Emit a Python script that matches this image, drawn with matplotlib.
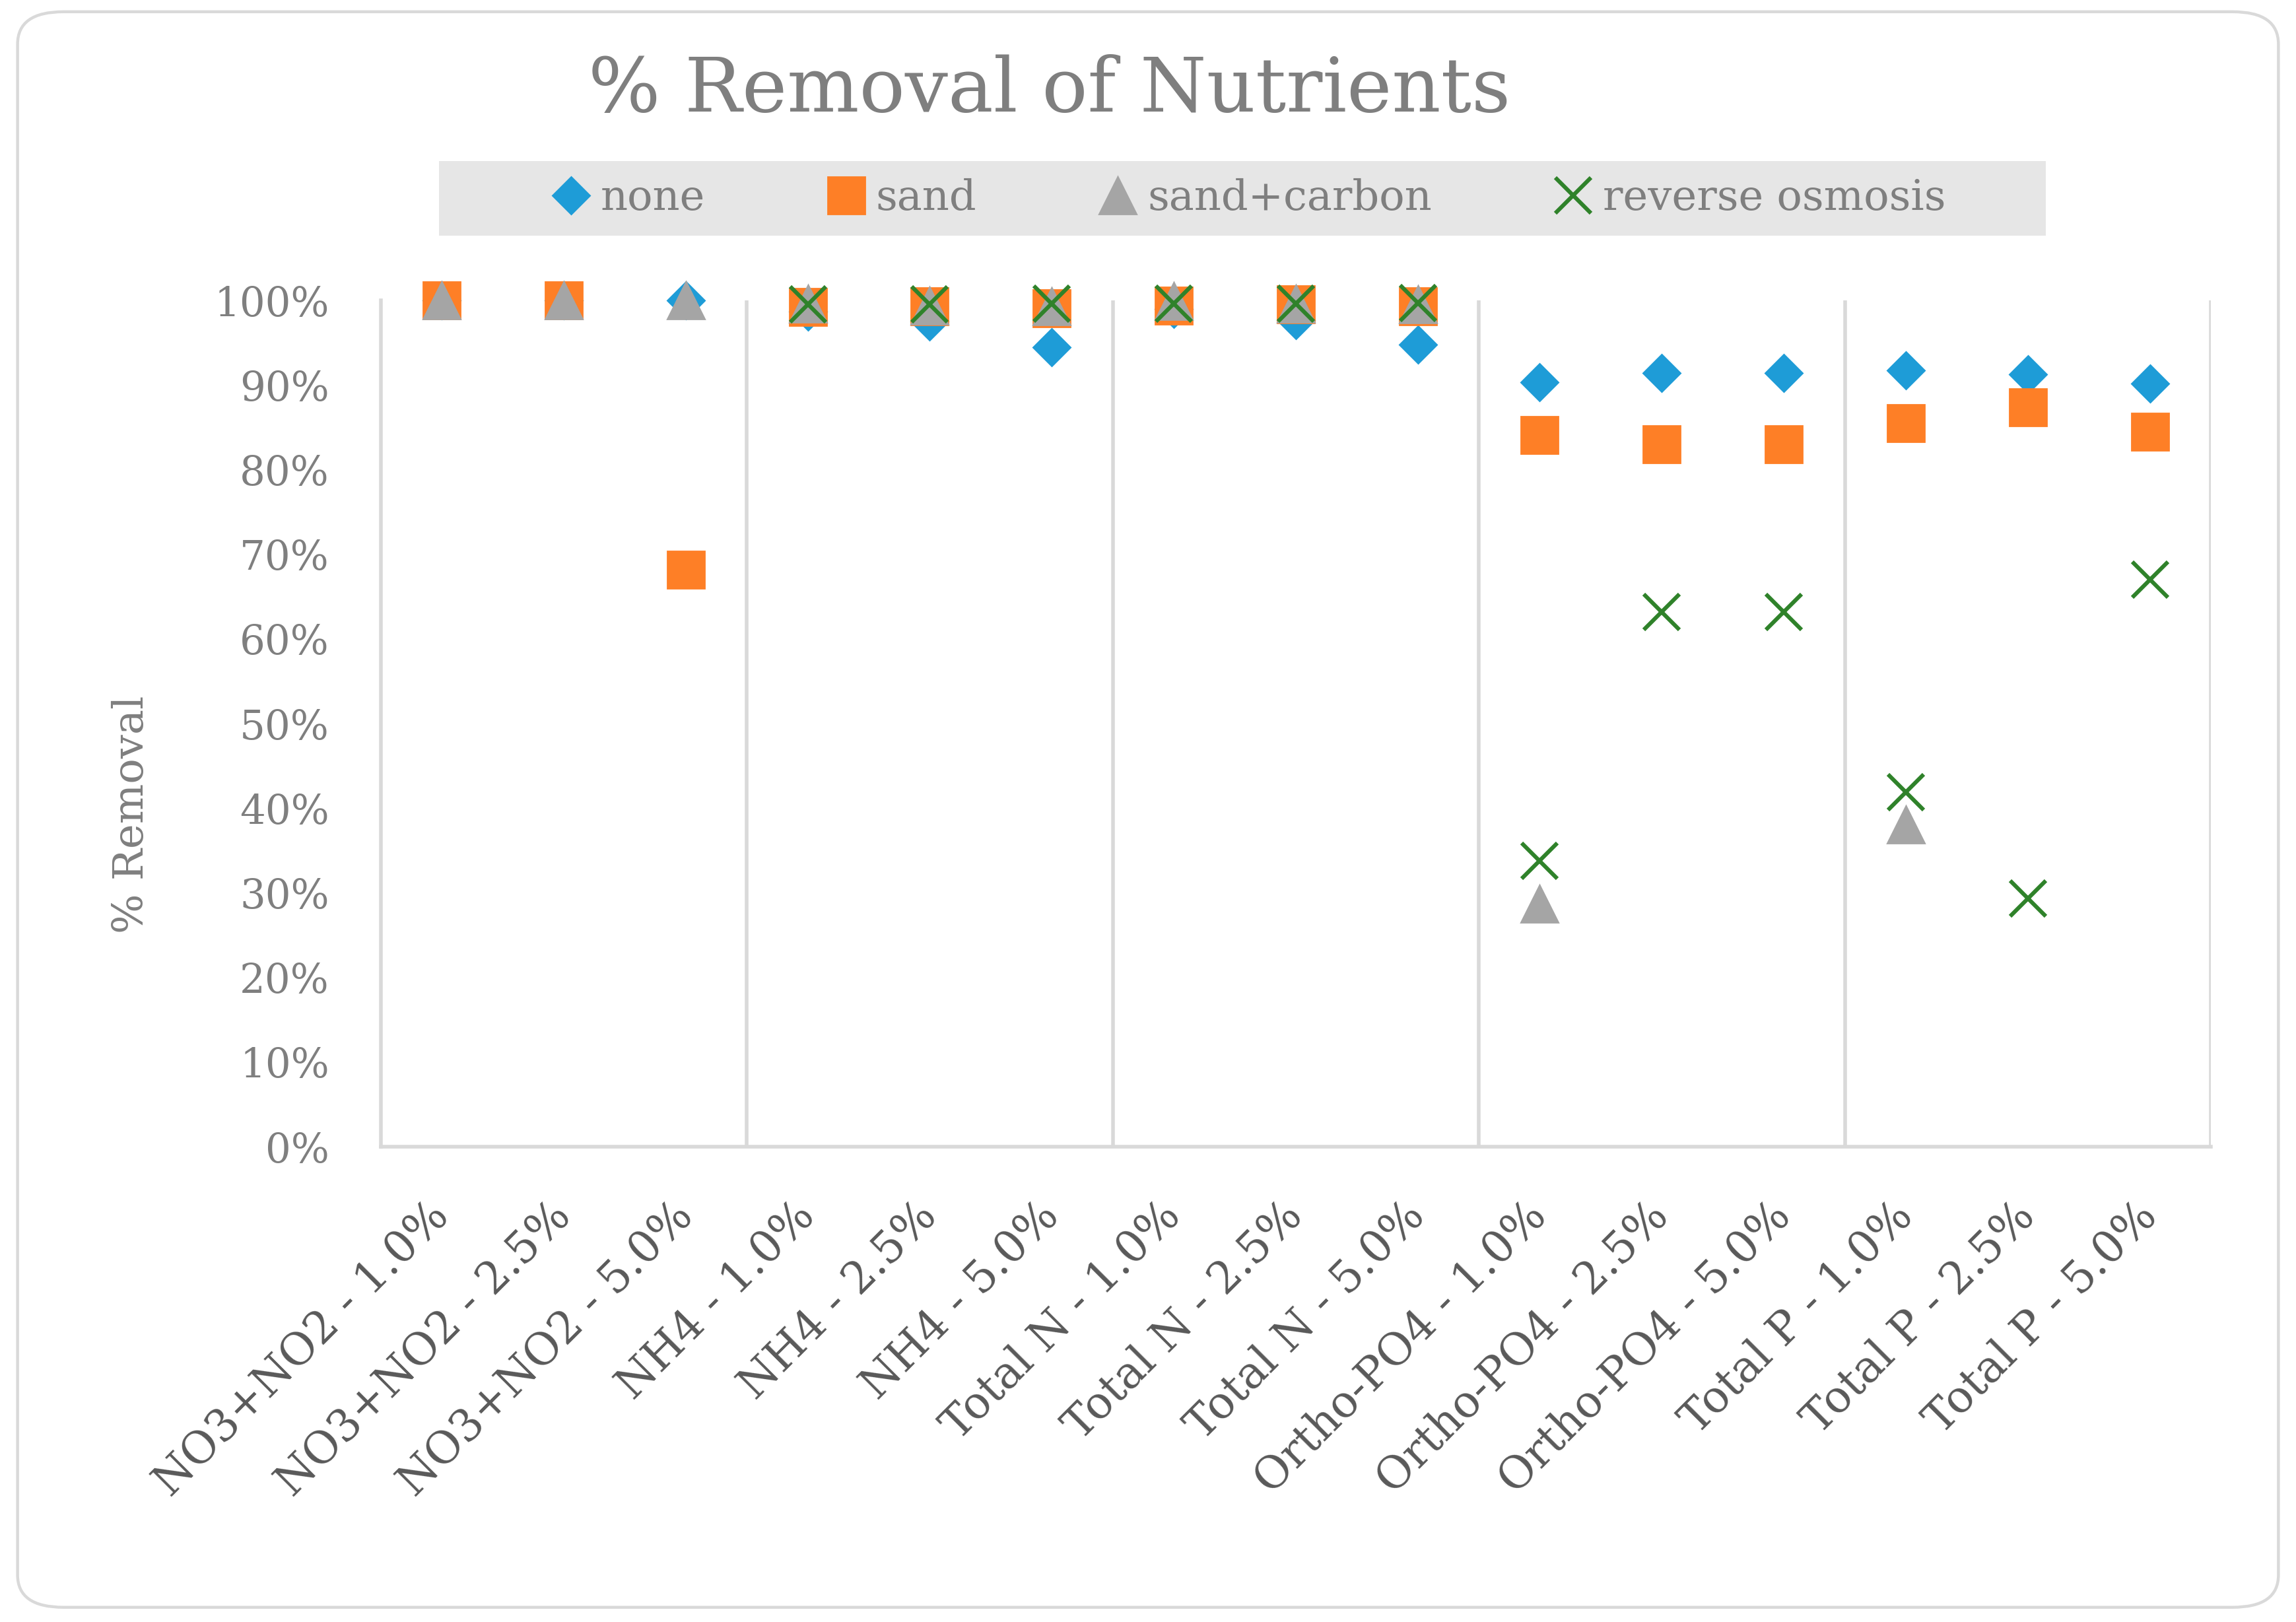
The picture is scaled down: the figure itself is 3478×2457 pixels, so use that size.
import matplotlib.pyplot as plt
from matplotlib.patches import FancyBboxPatch, Rectangle
from matplotlib.ticker import PercentFormatter
import numpy as np

nan = np.nan

categories = ["NO3+NO2 - 1.0%", "NO3+NO2 - 2.5%", "NO3+NO2 - 5.0%",
              "NH4 - 1.0%", "NH4 - 2.5%", "NH4 - 5.0%",
              "Total N - 1.0%", "Total N - 2.5%", "Total N - 5.0%",
              "Ortho-PO4 - 1.0%", "Ortho-PO4 - 2.5%", "Ortho-PO4 - 5.0%",
              "Total P - 1.0%", "Total P - 2.5%", "Total P - 5.0%"]

# % removal
none = [100, 100, 100, 98.7, 97.5, 94.5, 99.0, 97.7, 94.8, 90.3, 91.4, 91.4, 91.7, 91.3, 90.2]
sand = [100, 100, 68.2, 99.2, 99.3, 99.1, 99.4, 99.5, 99.3, 84.1, 83.0, 83.0, 85.5, 87.4, 84.5]
sand_carbon = [100, 100, 100, 99.6, 99.4, 99.3, 99.9, 99.6, 99.5, 28.7, nan, nan, 38.1, nan, nan]
reverse_osmosis = [nan, nan, nan, 99.5, 99.5, 99.6, 99.6, 99.6, 99.7, 33.8, 63.2, 63.2, 41.9, 29.3, 67.0]

group_edges = [3.5, 6.5, 9.5, 12.5, 15.5]

W, H = 3478, 2457
fig = plt.figure(figsize=(W / 200, H / 200), dpi=200)
plt.rcParams['font.family'] = ['DejaVu Serif']

# outer rounded frame
frame = FancyBboxPatch((12 / 1568, 10 / 1104), 1544 / 1568, 1086 / 1104,
                       boxstyle="round,pad=0,rounding_size=0.02",
                       transform=fig.transFigure, facecolor='none',
                       edgecolor='#D9D9D9', linewidth=1.6, zorder=0)
fig.patches.append(frame)

ax = fig.add_axes([0.1658, 0.2930, 0.7971, 0.5218])
ax.set_facecolor('none')
ax.set_zorder(3)

x = np.arange(1, len(categories) + 1)
ax.plot(x, np.array(none) / 100, linestyle='none', marker='D', markersize=14.5,
        color='#1E9CD7', label='none', clip_on=False, zorder=3)
ax.plot(x, np.array(sand) / 100, linestyle='none', marker='s', markersize=20,
        color='#FE7F26', label='sand', clip_on=False, zorder=4)
ax.plot(x, np.array(sand_carbon) / 100, linestyle='none', marker='^', markersize=20,
        color='#A5A5A5', label='sand+carbon', clip_on=False, zorder=5)
ax.plot(x, np.array(reverse_osmosis) / 100, linestyle='none', marker='x', markersize=19.5,
        markeredgewidth=2.2, color='#2F822A', label='reverse osmosis', clip_on=False, zorder=6)

ax.set_xlim(0.5, 15.5)
ax.set_ylim(0, 1)
for e in group_edges:
    ax.axvline(e, color='#D9D9D9', linewidth=2.0, zorder=1)

for s in ['top', 'right']:
    ax.spines[s].set_visible(False)
ax.spines['left'].set_color('#D9D9D9')
ax.spines['left'].set_linewidth(2.0)
ax.spines['bottom'].set_color('#D9D9D9')
ax.spines['bottom'].set_linewidth(2.0)

ax.set_yticks(np.arange(0, 1.01, 0.1))
ax.yaxis.set_major_formatter(PercentFormatter(1.0, decimals=0))
ax.tick_params(axis='y', length=0, pad=28, labelsize=22, labelcolor='#7F7F7F')
ax.set_xticks(x)
ax.set_xticklabels(categories, rotation=45, ha='right', va='center',
                   rotation_mode='anchor', fontsize=24, color='#595959')
ax.tick_params(axis='x', length=0, pad=34)

fig.text(0.0574, 0.498, '% Removal', rotation=90, ha='center', va='center',
         fontsize=23, color='#7F7F7F')
fig.text(0.457, 0.944, '% Removal of Nutrients', ha='center', va='center',
         fontsize=41.5, color='#7F7F7F')

# legend band
fig.patches.append(Rectangle((0.1912, 0.8547), 0.6998, 0.046, transform=fig.transFigure,
                             facecolor='#E6E6E6', edgecolor='none', zorder=1))
leg = fig.legend(loc='center', bbox_to_anchor=(0.5425, 0.8777), ncol=4, frameon=False,
                 fontsize=23, handletextpad=0.1, columnspacing=2.75, handlelength=1.2,
                 labelcolor='#7F7F7F')

fig.savefig('out.png', dpi=200)
